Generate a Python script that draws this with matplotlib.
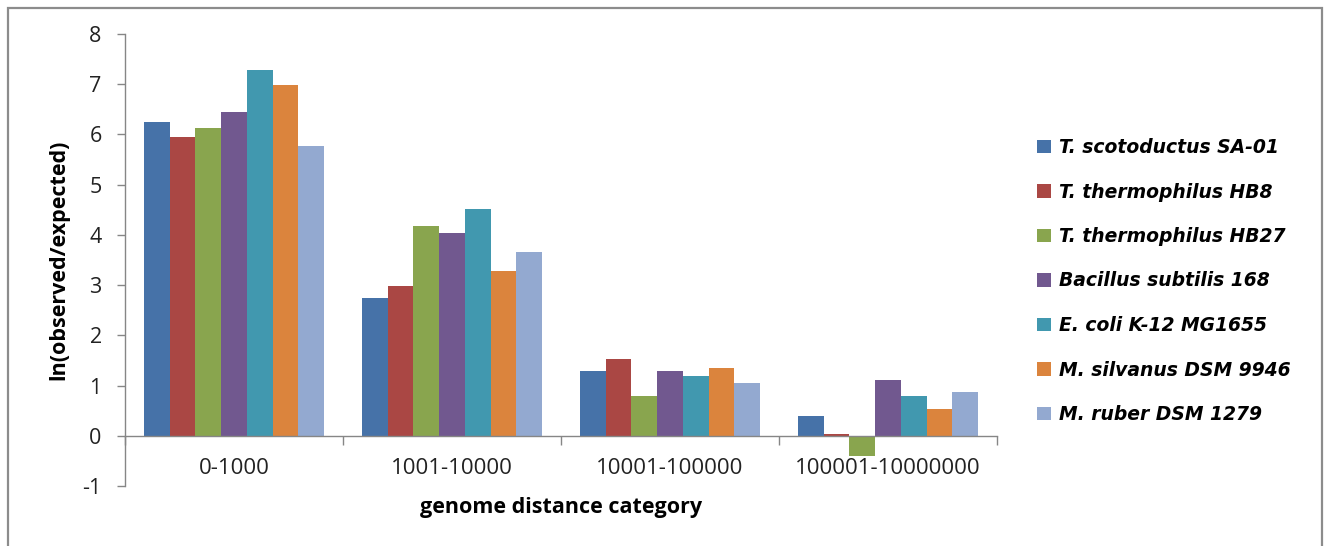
import matplotlib
matplotlib.use("Agg")
import matplotlib.pyplot as plt
import numpy as np
from matplotlib.patches import Rectangle

categories = ["0-1000", "1001-10000", "10001-100000", "100001-10000000"]

strains = [
    "T. scotoductus SA-01",
    "T. thermophilus HB8",
    "T. thermophilus HB27",
    "Bacillus subtilis 168",
    "E. coli K-12 MG1655",
    "M. silvanus DSM 9946",
    "M. ruber DSM 1279",
]

# ln(observed/expected) per strain, one value per distance category
scotoductus = [6.25, 2.74, 1.29, 0.40]
hb8 = [5.95, 2.99, 1.53, 0.03]
hb27 = [6.13, 4.17, 0.80, -0.41]
subtilis = [6.44, 4.03, 1.29, 1.11]
ecoli = [7.28, 4.52, 1.20, 0.80]
silvanus = [6.98, 3.28, 1.34, 0.54]
ruber = [5.76, 3.65, 1.06, 0.87]

values = [scotoductus, hb8, hb27, subtilis, ecoli, silvanus, ruber]
colors = ["#4672A8", "#AA4744", "#89A54E", "#71588F", "#4198AF", "#DB843D", "#93A9D0"]

plt.rcParams["font.family"] = ["Open Sans", "DejaVu Sans"]
plt.rcParams["axes.unicode_minus"] = False
axis_grey = "#868686"

fig = plt.figure(figsize=(13.3, 5.46), dpi=100)
ax = fig.add_axes([125 / 1330, 60 / 546, 872 / 1330, 452 / 546])

x = np.arange(len(categories))
bar_w = 0.825 / len(strains)
for i, (name, vals, col) in enumerate(zip(strains, values, colors)):
    ax.bar(x + (i - 3) * bar_w, vals, width=bar_w, color=col, label=name,
           linewidth=0, zorder=2)

ax.set_xlim(-0.5, len(categories) - 0.5)
ax.set_ylim(-1, 8)
ax.set_yticks(range(-1, 9))

for side in ("top", "right"):
    ax.spines[side].set_visible(False)
ax.spines["bottom"].set_position(("data", 0))
for side in ("left", "bottom"):
    ax.spines[side].set_color(axis_grey)
    ax.spines[side].set_linewidth(1.0)

# category separators as major ticks, names on minor ticks
ax.set_xticks(np.arange(len(categories) + 1) - 0.5)
ax.set_xticklabels([])
ax.set_xticks(x, minor=True)
ax.set_xticklabels(categories, minor=True)
ax.tick_params(axis="x", which="major", length=6.5, color=axis_grey, width=1.0)
ax.tick_params(axis="x", which="minor", length=0, pad=16, labelsize=16, labelcolor="#222222")
ax.tick_params(axis="y", length=5.8, color=axis_grey, width=1.0, pad=11,
               labelsize=15.5, labelcolor="#222222")

ax.set_xlabel("genome distance category", fontsize=15.5, fontweight="bold")
ax.xaxis.set_label_coords(0.5, -0.024)
ax.set_ylabel("ln(observed/expected)", fontsize=15.5, fontweight="bold")
ax.yaxis.set_label_coords(-0.064, 0.5)

leg = ax.legend(loc="upper left", bbox_to_anchor=(1037 / 1330, 1 - 138 / 546),
                bbox_transform=fig.transFigure, frameon=False,
                prop={"family": "DejaVu Sans", "size": 13.5, "weight": "bold",
                      "style": "oblique"},
                handlelength=0.75, handleheight=0.75, handletextpad=0.4,
                labelspacing=1.36, borderpad=0, borderaxespad=0)

# outer chart frame
fig.patches.append(Rectangle((8 / 1330, -0.02), 1314 / 1330, 1 - 8 / 546 + 0.02,
                             transform=fig.transFigure, fill=False,
                             edgecolor="#8c8c8c", linewidth=1.6))

fig.savefig("out.png", dpi=100)
